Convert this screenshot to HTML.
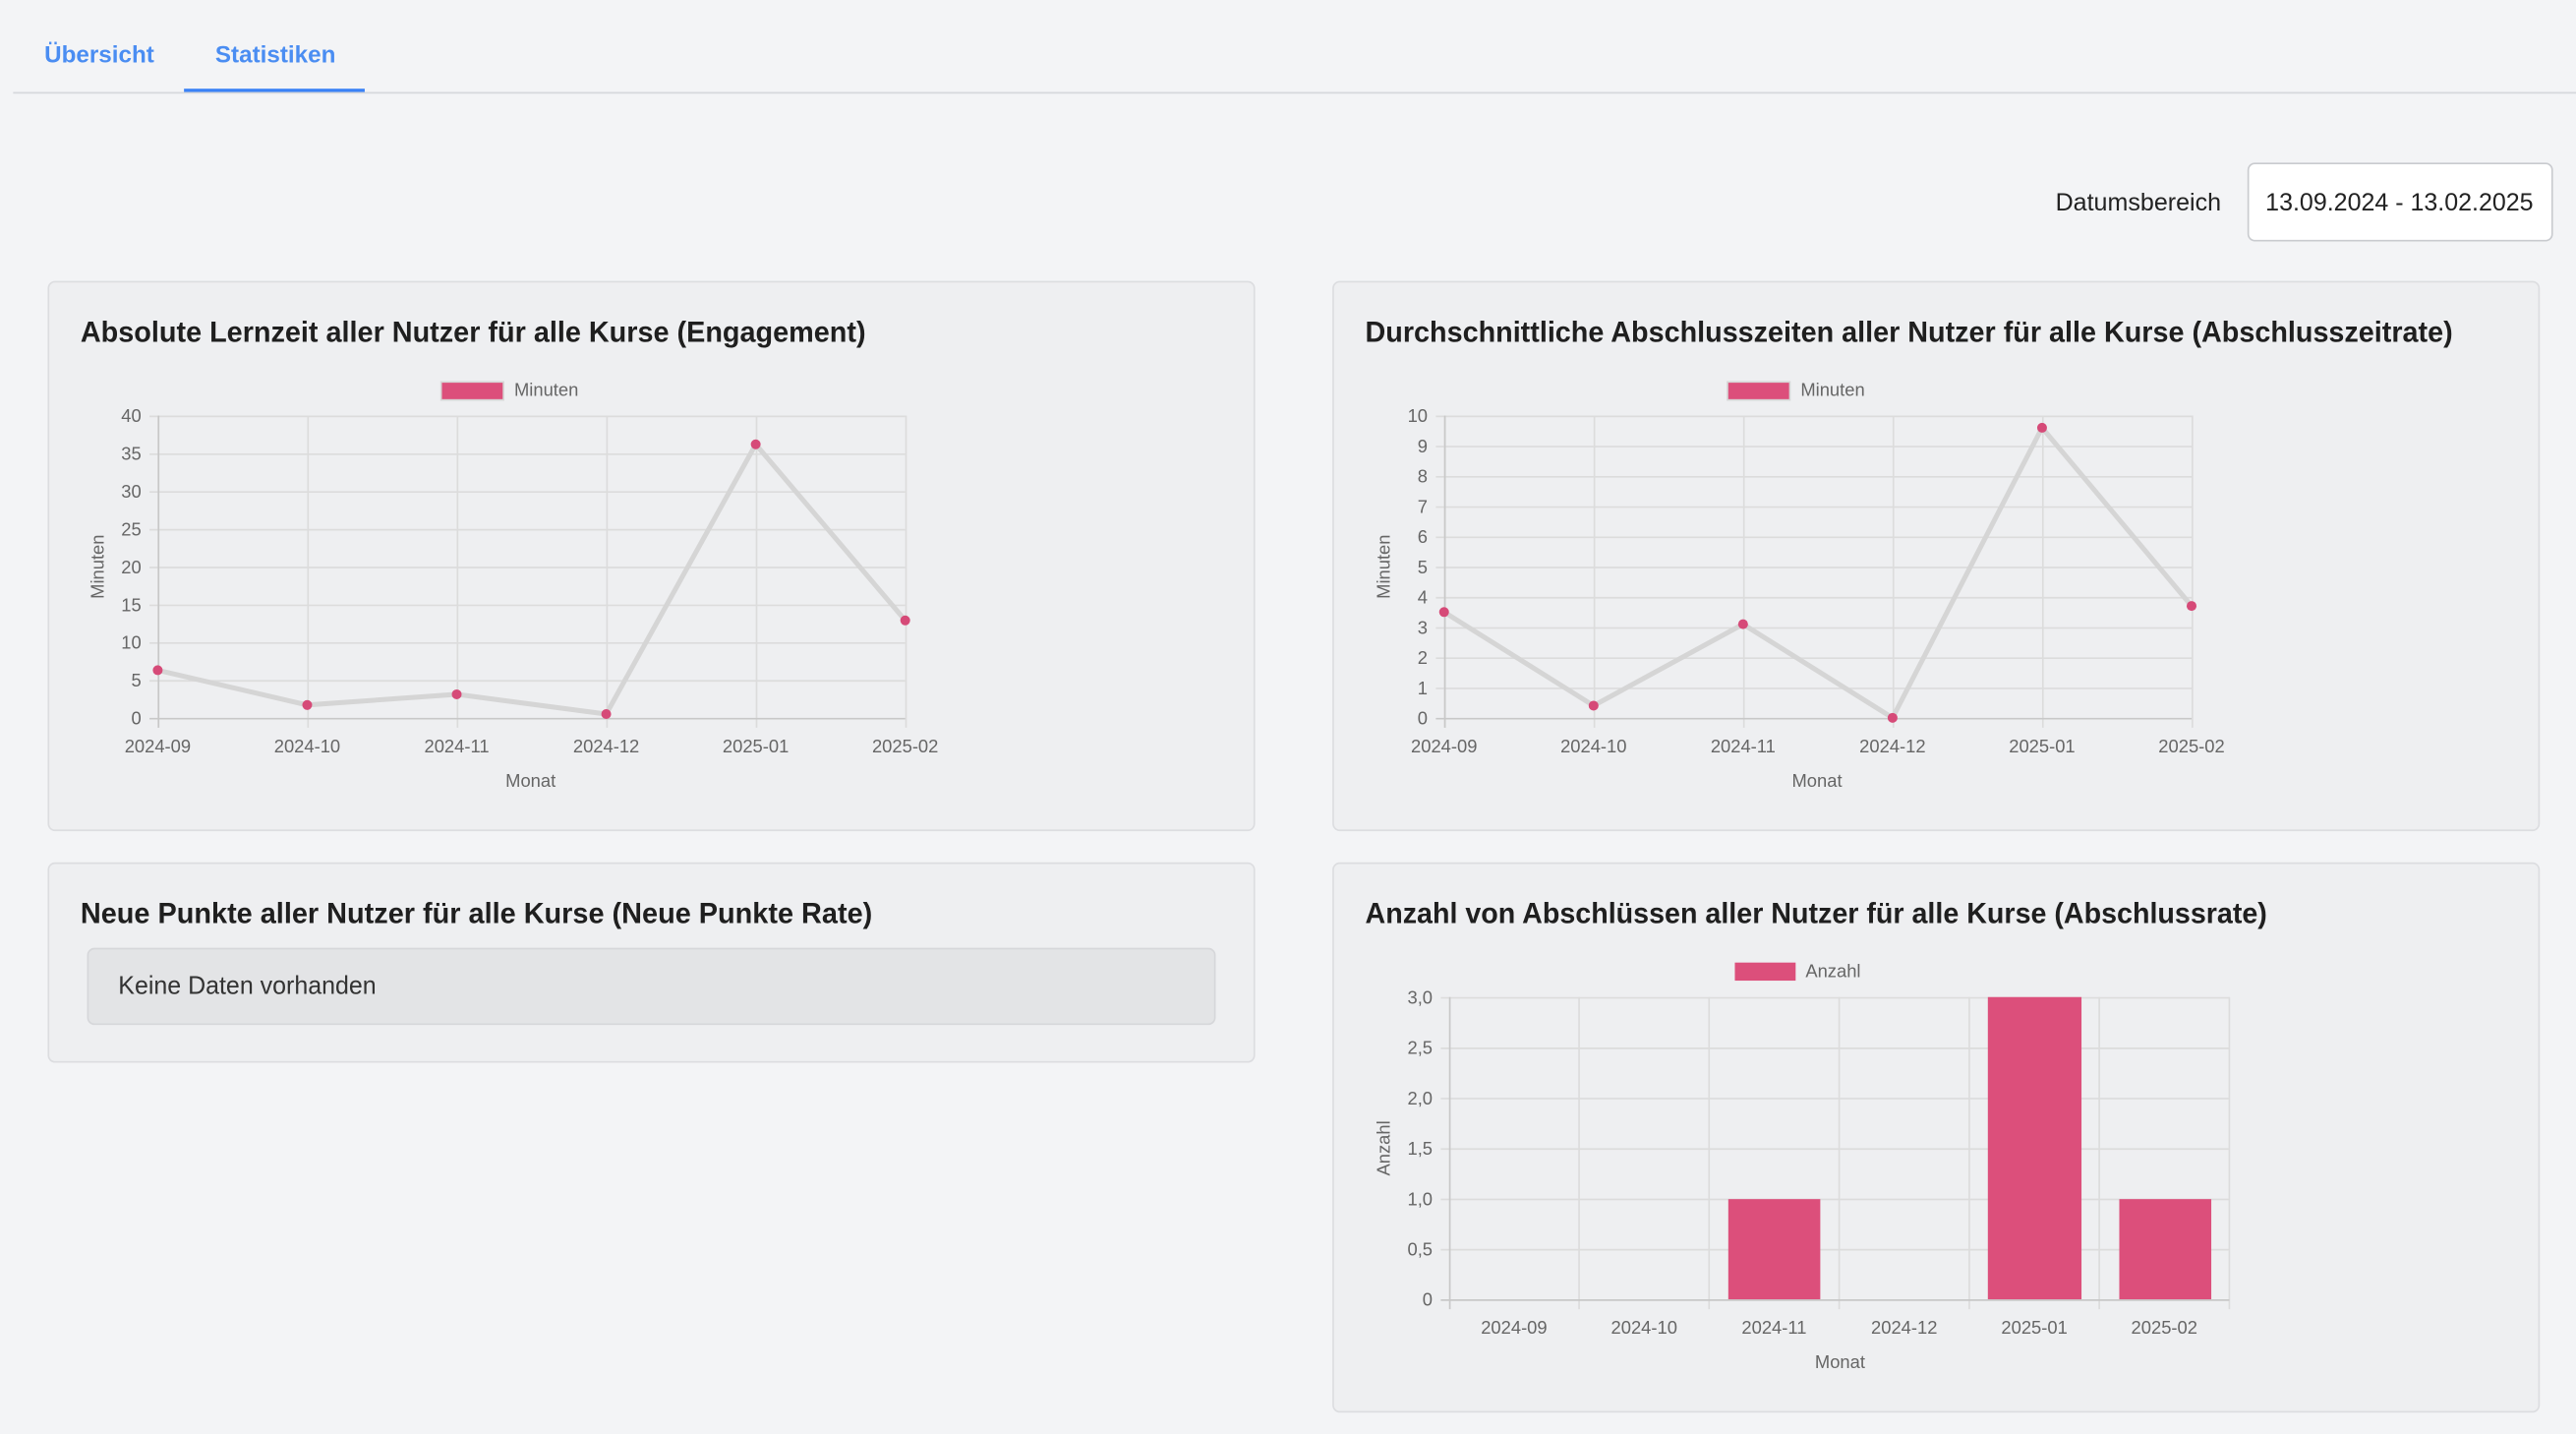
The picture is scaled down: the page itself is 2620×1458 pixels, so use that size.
<!DOCTYPE html>
<html><head><meta charset="utf-8">
<style>
html,body{margin:0;padding:0;background:#f3f4f6;}
svg{display:block;}
text{font-family:"Liberation Sans",sans-serif;}
</style></head>
<body>
<svg width="2620" height="1458" viewBox="0 0 1568 873" preserveAspectRatio="none" xmlns="http://www.w3.org/2000/svg">
<rect width="1568" height="873" fill="#f3f4f6"/>
<text x="27" y="38" font-size="14.5" font-weight="bold" fill="#4a8df2">Übersicht</text>
<text x="131" y="38" font-size="14.5" font-weight="bold" fill="#4a8df2">Statistiken</text>
<line x1="8" y1="56.5" x2="1568" y2="56.5" stroke="#d6d8dc" stroke-width="1"/>
<rect x="112" y="54" width="110" height="2" fill="#3b82f6"/>
<text x="1352" y="128" font-size="15" fill="#222" text-anchor="end">Datumsbereich</text>
<rect x="1368.5" y="99.5" width="185" height="47" rx="4" fill="#fff" stroke="#c9cbcf"/>
<text x="1379" y="128" font-size="15" fill="#222" textLength="163" lengthAdjust="spacingAndGlyphs">13.09.2024 - 13.02.2025</text>
<rect x="29.5" y="171.5" width="734" height="334" rx="4" fill="#eeeff1" stroke="#dcdde0"/>
<rect x="811.5" y="171.5" width="734" height="334" rx="4" fill="#eeeff1" stroke="#dcdde0"/>
<rect x="29.5" y="525.5" width="734" height="121" rx="4" fill="#eeeff1" stroke="#dcdde0"/>
<rect x="811.5" y="525.5" width="734" height="334" rx="4" fill="#eeeff1" stroke="#dcdde0"/>
<g font-size="17.5" font-weight="bold" fill="#1f1f1f">
<text x="49" y="208" textLength="478" lengthAdjust="spacingAndGlyphs">Absolute Lernzeit aller Nutzer für alle Kurse (Engagement)</text>
<text x="831" y="208" textLength="662" lengthAdjust="spacingAndGlyphs">Durchschnittliche Abschlusszeiten aller Nutzer für alle Kurse (Abschlusszeitrate)</text>
<text x="49" y="562" textLength="482" lengthAdjust="spacingAndGlyphs">Neue Punkte aller Nutzer für alle Kurse (Neue Punkte Rate)</text>
<text x="831" y="562" textLength="549" lengthAdjust="spacingAndGlyphs">Anzahl von Abschlüssen aller Nutzer für alle Kurse (Abschlussrate)</text>
</g>
<rect x="53.5" y="577.5" width="686" height="46" rx="4" fill="#e3e4e6" stroke="#d6d7da"/>
<text x="72" y="605" font-size="15.5" fill="#333" textLength="157" lengthAdjust="spacingAndGlyphs">Keine Daten vorhanden</text>

<g stroke="#dcdcdc" stroke-width="1">
<line x1="91" y1="253.5" x2="551" y2="253.5"/><line x1="91" y1="276.5" x2="551" y2="276.5"/>
<line x1="91" y1="299.5" x2="551" y2="299.5"/><line x1="91" y1="322.5" x2="551" y2="322.5"/>
<line x1="91" y1="345.5" x2="551" y2="345.5"/><line x1="91" y1="368.5" x2="551" y2="368.5"/>
<line x1="91" y1="391.5" x2="551" y2="391.5"/><line x1="91" y1="414.5" x2="551" y2="414.5"/>
<line x1="96.5" y1="253" x2="96.5" y2="443"/><line x1="187.5" y1="253" x2="187.5" y2="443"/>
<line x1="278.5" y1="253" x2="278.5" y2="443"/><line x1="369.5" y1="253" x2="369.5" y2="443"/>
<line x1="460.5" y1="253" x2="460.5" y2="443"/><line x1="551.5" y1="253" x2="551.5" y2="443"/>
</g>
<line x1="91" y1="437.5" x2="551" y2="437.5" stroke="#c8c8c8"/>
<line x1="96.5" y1="253" x2="96.5" y2="443" stroke="#c8c8c8"/>
<g font-size="11" fill="#666" text-anchor="end">
<text x="86" y="257">40</text><text x="86" y="280">35</text><text x="86" y="303">30</text>
<text x="86" y="326">25</text><text x="86" y="349">20</text><text x="86" y="372">15</text>
<text x="86" y="395">10</text><text x="86" y="418">5</text><text x="86" y="441">0</text>
</g>
<g font-size="11" fill="#666" text-anchor="middle">
<text x="96" y="458">2024-09</text><text x="187" y="458">2024-10</text><text x="278" y="458">2024-11</text>
<text x="369" y="458">2024-12</text><text x="460" y="458">2025-01</text><text x="551" y="458">2025-02</text>
<text x="323" y="479">Monat</text>
<text x="313" y="241" text-anchor="start">Minuten</text>
</g>
<text transform="translate(63,345) rotate(-90)" font-size="11" fill="#666" text-anchor="middle">Minuten</text>
<rect x="268.5" y="232.5" width="38" height="11" fill="#dc4f7b" stroke="#d7d7d7"/>
<polyline points="96,408 187,429.2 278,422.7 369,434.7 460,270.5 551,377.7" fill="none" stroke="#d5d5d5" stroke-width="3"/>
<g fill="#d64a78">
<circle cx="96" cy="408" r="3"/><circle cx="187" cy="429.2" r="3"/><circle cx="278" cy="422.7" r="3"/>
<circle cx="369" cy="434.7" r="3"/><circle cx="460" cy="270.5" r="3"/><circle cx="551" cy="377.7" r="3"/>
</g>

<g stroke="#dcdcdc" stroke-width="1">
<line x1="874" y1="253.5" x2="1334" y2="253.5"/><line x1="874" y1="271.9" x2="1334" y2="271.9"/>
<line x1="874" y1="290.3" x2="1334" y2="290.3"/><line x1="874" y1="308.7" x2="1334" y2="308.7"/>
<line x1="874" y1="327.1" x2="1334" y2="327.1"/><line x1="874" y1="345.5" x2="1334" y2="345.5"/>
<line x1="874" y1="363.9" x2="1334" y2="363.9"/><line x1="874" y1="382.3" x2="1334" y2="382.3"/>
<line x1="874" y1="400.7" x2="1334" y2="400.7"/><line x1="874" y1="419.1" x2="1334" y2="419.1"/>
<line x1="879.5" y1="253" x2="879.5" y2="443"/><line x1="970.5" y1="253" x2="970.5" y2="443"/>
<line x1="1061.5" y1="253" x2="1061.5" y2="443"/><line x1="1152.5" y1="253" x2="1152.5" y2="443"/>
<line x1="1243.5" y1="253" x2="1243.5" y2="443"/><line x1="1334.5" y1="253" x2="1334.5" y2="443"/>
</g>
<line x1="874" y1="437.5" x2="1334" y2="437.5" stroke="#c8c8c8"/>
<line x1="879.5" y1="253" x2="879.5" y2="443" stroke="#c8c8c8"/>
<g font-size="11" fill="#666" text-anchor="end">
<text x="869" y="257">10</text><text x="869" y="275.4">9</text><text x="869" y="293.8">8</text>
<text x="869" y="312.2">7</text><text x="869" y="330.6">6</text><text x="869" y="349">5</text>
<text x="869" y="367.4">4</text><text x="869" y="385.8">3</text><text x="869" y="404.2">2</text>
<text x="869" y="422.6">1</text><text x="869" y="441">0</text>
</g>
<g font-size="11" fill="#666" text-anchor="middle">
<text x="879" y="458">2024-09</text><text x="970" y="458">2024-10</text><text x="1061" y="458">2024-11</text>
<text x="1152" y="458">2024-12</text><text x="1243" y="458">2025-01</text><text x="1334" y="458">2025-02</text>
<text x="1106" y="479">Monat</text>
<text x="1096" y="241" text-anchor="start">Minuten</text>
</g>
<text transform="translate(846,345) rotate(-90)" font-size="11" fill="#666" text-anchor="middle">Minuten</text>
<rect x="1051.5" y="232.5" width="38" height="11" fill="#dc4f7b" stroke="#d7d7d7"/>
<polyline points="879,372.6 970,429.6 1061,380 1152,437 1243,260.4 1334,368.9" fill="none" stroke="#d5d5d5" stroke-width="3"/>
<g fill="#d64a78">
<circle cx="879" cy="372.6" r="3"/><circle cx="970" cy="429.6" r="3"/><circle cx="1061" cy="380" r="3"/>
<circle cx="1152" cy="437" r="3"/><circle cx="1243" cy="260.4" r="3"/><circle cx="1334" cy="368.9" r="3"/>
</g>

<g stroke="#dcdcdc" stroke-width="1">
<line x1="877" y1="607.5" x2="1357" y2="607.5"/><line x1="877" y1="638.2" x2="1357" y2="638.2"/>
<line x1="877" y1="668.8" x2="1357" y2="668.8"/><line x1="877" y1="699.5" x2="1357" y2="699.5"/>
<line x1="877" y1="730.2" x2="1357" y2="730.2"/><line x1="877" y1="760.8" x2="1357" y2="760.8"/>
<line x1="961.2" y1="607" x2="961.2" y2="797"/><line x1="1040.3" y1="607" x2="1040.3" y2="797"/>
<line x1="1119.5" y1="607" x2="1119.5" y2="797"/><line x1="1198.7" y1="607" x2="1198.7" y2="797"/>
<line x1="1277.8" y1="607" x2="1277.8" y2="797"/><line x1="1357" y1="607" x2="1357" y2="797"/>
</g>
<line x1="877" y1="791.5" x2="1357" y2="791.5" stroke="#c8c8c8"/>
<line x1="882.5" y1="607" x2="882.5" y2="797" stroke="#c8c8c8"/>
<g fill="#dc4f7b">
<rect x="1052" y="730" width="56" height="61"/>
<rect x="1210" y="607" width="57" height="184"/>
<rect x="1290" y="730" width="56" height="61"/>
</g>
<g font-size="11" fill="#666" text-anchor="end">
<text x="872" y="611">3,0</text><text x="872" y="641.7">2,5</text><text x="872" y="672.3">2,0</text>
<text x="872" y="703">1,5</text><text x="872" y="733.7">1,0</text><text x="872" y="764.3">0,5</text>
<text x="872" y="795">0</text>
</g>
<g font-size="11" fill="#666" text-anchor="middle">
<text x="921.6" y="812">2024-09</text><text x="1000.8" y="812">2024-10</text><text x="1079.9" y="812">2024-11</text>
<text x="1159.1" y="812">2024-12</text><text x="1238.3" y="812">2025-01</text><text x="1317.4" y="812">2025-02</text>
<text x="1120" y="833">Monat</text>
<text x="1099" y="595" text-anchor="start">Anzahl</text>
</g>
<text transform="translate(846,699) rotate(-90)" font-size="11" fill="#666" text-anchor="middle">Anzahl</text>
<rect x="1056" y="586" width="37" height="11" fill="#dc4f7b"/>
</svg>
</body></html>
